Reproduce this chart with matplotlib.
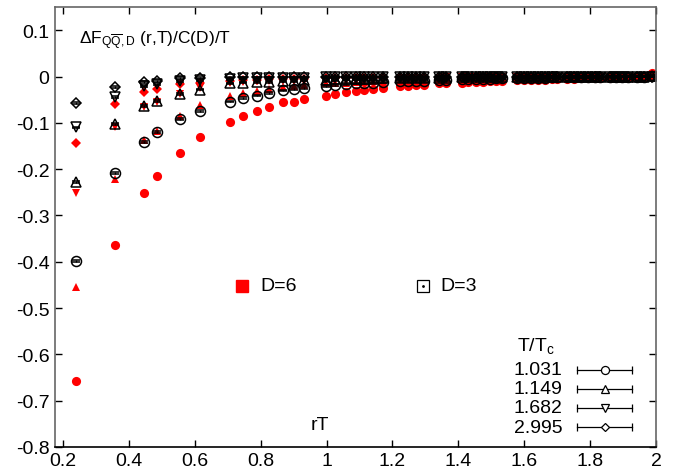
import matplotlib
matplotlib.use('Agg')
import matplotlib.pyplot as plt
from matplotlib.ticker import FuncFormatter

plt.rcParams['font.family'] = ['Liberation Sans', 'DejaVu Sans']
plt.rcParams['mathtext.fontset'] = 'custom'
plt.rcParams['mathtext.rm'] = 'Liberation Sans'
plt.rcParams['mathtext.it'] = 'Liberation Sans'
plt.rcParams['mathtext.default'] = 'regular'
plt.rcParams['axes.unicode_minus'] = False

# rT values shared by all data sets
rT = [0.239, 0.358, 0.445, 0.485, 0.555, 0.615,
      0.706, 0.748, 0.788, 0.827, 0.867, 0.900, 0.933,
      0.997, 1.027, 1.058, 1.088, 1.115, 1.142, 1.170,
      1.224, 1.248, 1.273, 1.297,
      1.342, 1.364,
      1.412, 1.430, 1.455, 1.476, 1.497, 1.515, 1.533,
      1.579, 1.600, 1.621, 1.642, 1.664, 1.685, 1.700,
      1.730, 1.752, 1.773, 1.794, 1.815, 1.830,
      1.861, 1.879, 1.897, 1.915,
      1.942, 1.964,
      1.988]

temps = ['1.031', '1.149', '1.682', '2.995']
markers = ['o', '^', 'v', 'D']

# D=6 (filled red)
d6_1031 = [-0.657, -0.364, -0.252, -0.215, -0.165, -0.131,
           -0.098, -0.085, -0.075, -0.065, -0.056, -0.054, -0.049,
           -0.041, -0.037, -0.033, -0.032, -0.028, -0.027, -0.024,
           -0.021, -0.020, -0.019, -0.018,
           -0.015, -0.014,
           -0.013, -0.012, -0.012, -0.011, -0.010, -0.010, -0.009,
           -0.008, -0.008, -0.007, -0.007, -0.007, -0.006, -0.006,
           -0.005, -0.005, -0.004, -0.004, -0.004, -0.003,
           -0.003, -0.002, -0.002, -0.002,
           -0.001, -0.001,
           0.008]
d6_1149 = [-0.454, -0.222, -0.138, -0.117, -0.085, -0.062,
           -0.043, -0.036, -0.032, -0.027, -0.023, -0.021, -0.019,
           -0.015, -0.014, -0.013, -0.012, -0.011, -0.010, -0.009,
           -0.008, -0.008, -0.007, -0.007,
           -0.006, -0.006,
           -0.005, -0.005, -0.004, -0.004, -0.004, -0.003, -0.003,
           -0.003, -0.003, -0.002, -0.002, -0.002, -0.002, -0.002,
           -0.001, -0.001, -0.001, -0.001, -0.001, -0.001,
           -0.001, -0.001, 0.000, 0.000,
           0.000, 0.000,
           0.004]
d6_1682 = [-0.251, -0.108, -0.065, -0.054, -0.037, -0.024,
           -0.013, -0.011, -0.010, -0.009, -0.008, -0.007, -0.007,
           -0.006, -0.005, -0.005, -0.004, -0.004, -0.004, -0.004,
           -0.003, -0.003, -0.003, -0.003,
           -0.003, -0.002,
           -0.002, -0.002, -0.002, -0.002, -0.002, -0.002, -0.002,
           -0.001, -0.001, -0.001, -0.001, -0.001, -0.001, -0.001,
           -0.001, -0.001, -0.001, -0.001, -0.001, -0.001,
           0.000, 0.000, 0.000, 0.000,
           0.000, 0.000,
           0.002]
d6_2995 = [-0.144, -0.059, -0.033, -0.027, -0.017, -0.015,
           -0.010, -0.008, -0.007, -0.006, -0.006, -0.005, -0.005,
           -0.004, -0.004, -0.004, -0.004, -0.004, -0.004, -0.004,
           -0.003, -0.003, -0.003, -0.003,
           -0.003, -0.003,
           -0.002, -0.002, -0.002, -0.002, -0.002, -0.002, -0.002,
           -0.001, -0.001, -0.001, -0.001, -0.001, -0.001, -0.001,
           -0.001, -0.001, -0.001, -0.001, -0.001, -0.001,
           0.000, 0.000, 0.000, 0.000,
           0.000, 0.000,
           0.002]

# D=3 (open black)
d3_1031 = [-0.399, -0.208, -0.141, -0.120, -0.092, -0.075,
           -0.054, -0.046, -0.041, -0.035, -0.030, -0.027, -0.025,
           -0.020, -0.018, -0.017, -0.015, -0.014, -0.013, -0.012,
           -0.010, -0.010, -0.009, -0.009,
           -0.007, -0.007,
           -0.006, -0.006, -0.005, -0.005, -0.005, -0.004, -0.004,
           -0.004, -0.003, -0.003, -0.003, -0.003, -0.002, -0.002,
           -0.002, -0.002, -0.002, -0.001, -0.001, -0.001,
           -0.001, -0.001, 0.000, 0.000,
           0.000, 0.000,
           0.002]
d3_1149 = [-0.228, -0.103, -0.063, -0.052, -0.038, -0.028,
           -0.015, -0.013, -0.012, -0.011, -0.010, -0.009, -0.008,
           -0.007, -0.006, -0.006, -0.005, -0.005, -0.005, -0.004,
           -0.004, -0.004, -0.003, -0.003,
           -0.003, -0.003,
           -0.002, -0.002, -0.002, -0.002, -0.002, -0.002, -0.002,
           -0.002, -0.001, -0.001, -0.001, -0.001, -0.001, -0.001,
           -0.001, -0.001, -0.001, -0.001, -0.001, -0.001,
           0.000, 0.000, 0.000, 0.000,
           0.000, 0.000,
           0.001]
d3_1682 = [-0.110, -0.044, -0.020, -0.017, -0.009, -0.008,
           -0.005, -0.004, -0.004, -0.003, -0.003, -0.003, -0.003,
           -0.002, -0.002, -0.002, -0.002, -0.002, -0.002, -0.002,
           -0.002, -0.002, -0.002, -0.002,
           -0.001, -0.001,
           -0.001, -0.001, -0.001, -0.001, -0.001, -0.001, -0.001,
           -0.001, -0.001, -0.001, -0.001, -0.001, -0.001, -0.001,
           0.000, 0.000, 0.000, 0.000, 0.000, 0.000,
           0.000, 0.000, 0.000, 0.000,
           0.000, 0.000,
           0.000]
d3_2995 = [-0.058, -0.023, -0.012, -0.010, -0.004, -0.003,
           -0.002, -0.002, -0.002, -0.002, -0.002, -0.002, -0.002,
           -0.001, -0.001, -0.001, -0.001, -0.001, -0.001, -0.001,
           0.000, 0.000, 0.000, 0.000,
           0.000, 0.000,
           0.000, 0.000, 0.000, 0.000, 0.000, 0.000, 0.000,
           0.000, 0.000, 0.000, 0.000, 0.000, 0.000, 0.000,
           0.000, 0.000, 0.000, 0.000, 0.000, 0.000,
           0.000, 0.000, 0.000, 0.000,
           0.000, 0.000,
           0.000]

d6_sets = [d6_1031, d6_1149, d6_1682, d6_2995]
d3_sets = [d3_1031, d3_1149, d3_1682, d3_2995]
d3_err = 0.002

fig = plt.figure(figsize=(6.83, 4.77), dpi=100)
ax = fig.add_axes([0.0805, 0.061, 0.88, 0.922])

sizes = [6.6, 6.0, 6.0, 5.0]
for y, m, s in zip(d6_sets, markers, sizes):
    ax.plot(rT, y, linestyle='none', marker=m, markersize=s, color='#ff0000',
            markeredgewidth=0)

for y, m, s in zip(d3_sets, markers, sizes):
    ax.errorbar(rT, y, yerr=d3_err, fmt=m, markersize=s + 0.6,
                markerfacecolor='none', markeredgecolor='black',
                markeredgewidth=1.1, ecolor='black', elinewidth=0.9,
                capsize=3, capthick=0.9)

ax.set_xlim(0.176, 2.0)
ax.set_ylim(-0.8, 0.15)
ax.set_xticks([0.2, 0.4, 0.6, 0.8, 1.0, 1.2, 1.4, 1.6, 1.8, 2.0])
ax.set_yticks([0.1, 0, -0.1, -0.2, -0.3, -0.4, -0.5, -0.6, -0.7, -0.8])
ax.xaxis.set_major_formatter(FuncFormatter(lambda v, p: '%g' % round(v, 2)))
ax.yaxis.set_major_formatter(FuncFormatter(lambda v, p: '%g' % round(v, 2)))
ax.tick_params(direction='in', length=5, width=1, top=True, right=True,
               labelsize=14, pad=4)
for side in ['left', 'top', 'right']:
    ax.spines[side].set_color('#666666')
ax.spines['bottom'].set_color('black')
for sp in ax.spines.values():
    sp.set_linewidth(1.2)

ax.text(0.248, 0.08, r'$\Delta F_{Q\overline{Q},D}$ (r,T)/C(D)/T', fontsize=12.5,
        va='center', ha='left')
ax.text(0.979, -0.752, 'rT', fontsize=14, va='center', ha='center')

# D key
ax.plot([0.745], [-0.452], marker='s', markersize=9, color='#ff0000',
        linestyle='none')
ax.text(0.80, -0.452, 'D=6', fontsize=14, va='center', ha='left')
ax.plot([1.294], [-0.452], marker='s', markersize=8.5, markerfacecolor='none',
        markeredgecolor='black', markeredgewidth=0.9, linestyle='none')
ax.plot([1.294], [-0.452], marker='.', markersize=2, color='black',
        linestyle='none')
ax.text(1.347, -0.452, 'D=3', fontsize=14, va='center', ha='left')

# temperature key, gnuplot style error-bar samples
tr = ax.transAxes
ax.text(0.80, 0.232, r'T/T$_c$', transform=tr, fontsize=14, ha='center', va='center')
key_y = [0.175, 0.132, 0.089, 0.045]
for t, m, ky, s in zip(temps, markers, key_y, sizes):
    ax.text(0.845, ky, t, transform=tr, fontsize=14, ha='right', va='center')
    ax.plot([0.869, 0.960], [ky, ky], transform=tr, color='black', lw=0.9,
            marker='|', markersize=6, markeredgewidth=0.9)
    ax.plot([0.915], [ky], transform=tr, marker=m, markersize=s - 0.8,
            markerfacecolor='white', markeredgecolor='black',
            markeredgewidth=0.9, linestyle='none')

fig.savefig('out.png', dpi=100)
